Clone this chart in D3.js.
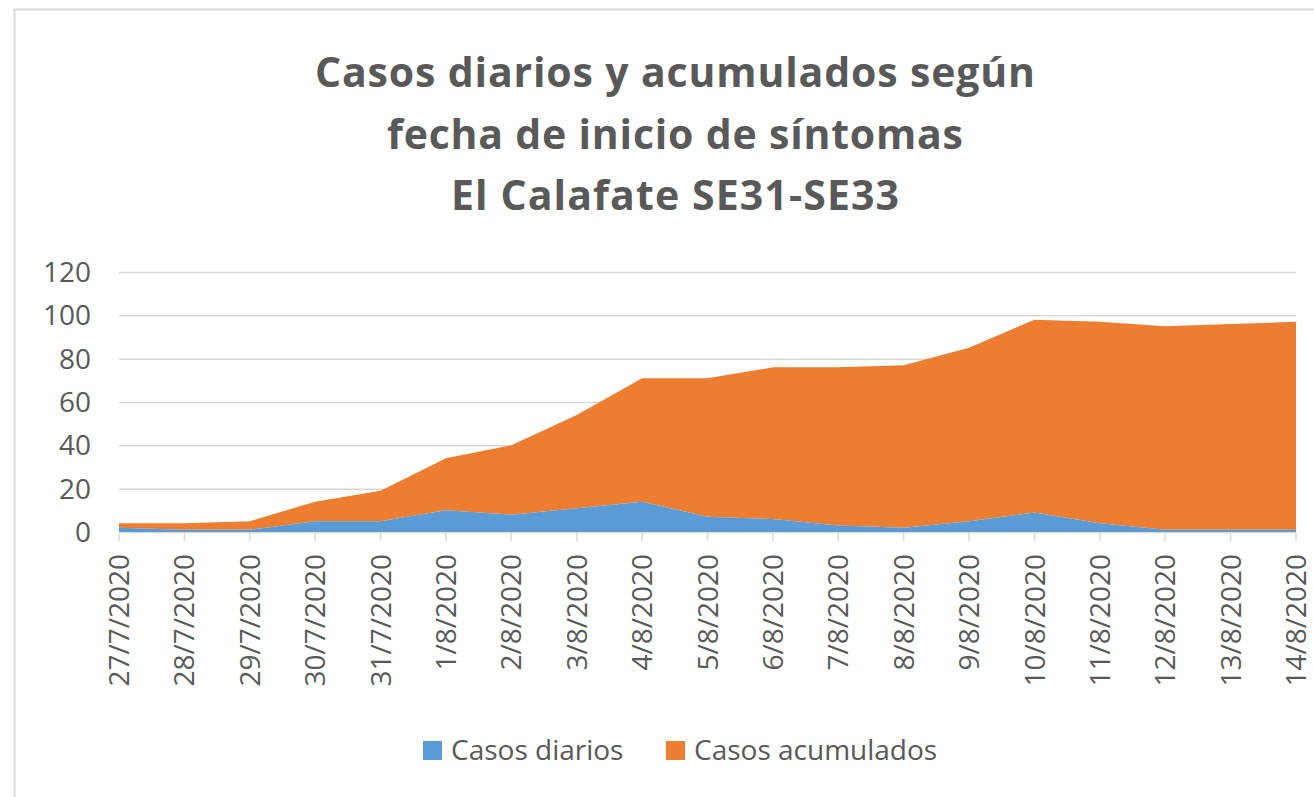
<!DOCTYPE html>
<html><head><meta charset="utf-8">
<script src="https://cdn.jsdelivr.net/npm/d3@7"></script>
<style>body{margin:0;background:#fff;} svg{display:block;}</style>
</head><body>
<script>
const fechas = ["27/7/2020","28/7/2020","29/7/2020","30/7/2020","31/7/2020","1/8/2020","2/8/2020","3/8/2020","4/8/2020","5/8/2020","6/8/2020","7/8/2020","8/8/2020","9/8/2020","10/8/2020","11/8/2020","12/8/2020","13/8/2020","14/8/2020"];
const casosDiarios = [2,1,1,5,5,10,8,11,14,7,6,3,2,5,9,4,1,1,1];
const casosAcumulados = [2,3,4,9,14,24,32,43,57,64,70,73,75,80,89,93,94,95,96];
const yTicks = [0,20,40,60,80,100,120];
const seriesNames = ["Casos diarios","Casos acumulados"];
const colors = ["#5B9BD5","#ED7D31"];
const titleLines = ["Casos diarios y acumulados según","fecha de inicio de síntomas","El Calafate SE31-SE33"];

const W = 1314, H = 797;
const svg = d3.select("body").append("svg").attr("width", W).attr("height", H);
const font = "'Open Sans', 'Noto Sans', sans-serif";
const txt = "#595959";

// chart border
svg.append("rect").attr("x",14.5).attr("y",9.5).attr("width",W+10).attr("height",H+10)
  .attr("fill","#fff").attr("stroke","#d9d9d9").attr("stroke-width",2);

const x = d3.scalePoint().domain(fechas).range([119,1296]);
const y = d3.scaleLinear().domain([0,120]).range([532,272]);

// gridlines
svg.append("g").selectAll("line").data(yTicks.filter(d=>d>0)).join("line")
  .attr("x1",119).attr("x2",1296).attr("y1",d=>y(d)+0.5).attr("y2",d=>y(d)+0.5)
  .attr("stroke","#d9d9d9").attr("stroke-width",1.5);

const table = fechas.map((f,i)=>({fecha:f, "Casos diarios":casosDiarios[i], "Casos acumulados":casosAcumulados[i]}));
const stack = d3.stack().keys(seriesNames)(table);
const area = d3.area().x(d=>x(d.data.fecha)).y0(d=>y(d[0])).y1(d=>y(d[1]));
svg.append("g").selectAll("path").data(stack.slice().reverse()).join("path")
  .attr("d",area).attr("fill",(d)=>colors[seriesNames.indexOf(d.key)]);

// x axis line and ticks
svg.append("line").attr("x1",119).attr("x2",1296).attr("y1",532.5).attr("y2",532.5)
  .attr("stroke","#d9d9d9").attr("stroke-width",1.5);
svg.append("line").attr("x1",119).attr("x2",1296).attr("y1",531).attr("y2",531)
  .attr("stroke","#5B9BD5").attr("stroke-width",2);
svg.append("g").selectAll("line").data(fechas).join("line")
  .attr("x1",d=>x(d)).attr("x2",d=>x(d)).attr("y1",533).attr("y2",541)
  .attr("stroke","#d9d9d9").attr("stroke-width",1.5);

// x labels
svg.append("g").selectAll("text").data(fechas).join("text")
  .attr("transform",d=>`translate(${x(d)},554) rotate(-90)`)
  .attr("text-anchor","end").attr("dy","0.36em")
  .attr("font-family",font).attr("font-size",28).attr("fill",txt).text(d=>d);

// y labels
svg.append("g").selectAll("text").data(yTicks).join("text")
  .attr("x",91).attr("y",d=>y(d)).attr("dy","0.36em").attr("text-anchor","end")
  .attr("font-family",font).attr("font-size",28).attr("fill",txt).text(d=>d);

// title
const tBase = [87,149,210];
const tLen = [720,576,448];
svg.append("g").selectAll("text").data(titleLines).join("text")
  .attr("x",675).attr("y",(d,i)=>tBase[i]).attr("text-anchor","middle")
  .attr("textLength",(d,i)=>tLen[i]).attr("lengthAdjust","spacing")
  .attr("font-family",font).attr("font-weight","bold").attr("font-size",41).attr("fill",txt).text(d=>d);

// legend
const legX = [423,666];
const lg = svg.append("g").selectAll("g").data(seriesNames).join("g")
  .attr("transform",(d,i)=>`translate(${legX[i]},741)`);
lg.append("rect").attr("width",19).attr("height",19).attr("fill",(d,i)=>colors[i]);
lg.append("text").attr("x",28).attr("y",19).attr("font-family",font).attr("font-size",28)
  .attr("fill",txt).text(d=>d);
</script>
</body></html>
